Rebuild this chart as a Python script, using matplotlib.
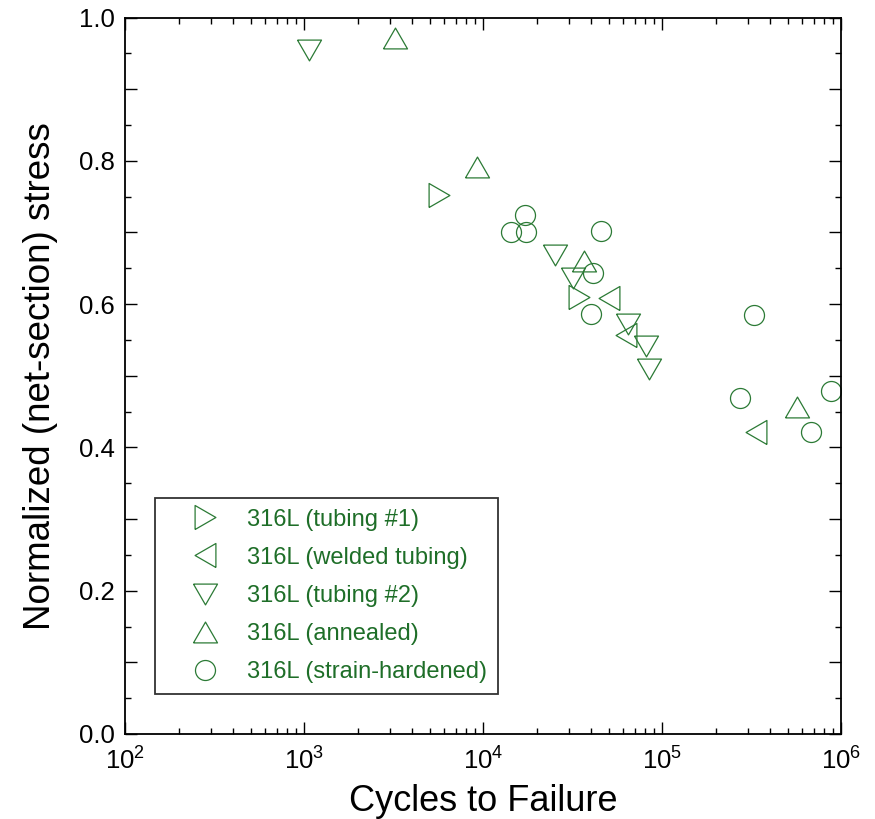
import numpy as np
import matplotlib
matplotlib.use('Agg')
import matplotlib.pyplot as plt
from matplotlib.ticker import LogLocator, MultipleLocator, FuncFormatter, NullFormatter

plt.rcParams['font.family'] = ['Liberation Sans', 'DejaVu Sans']
plt.rcParams['mathtext.fontset'] = 'custom'
plt.rcParams['mathtext.rm'] = 'Liberation Sans'
plt.rcParams['mathtext.it'] = 'Liberation Sans'

GREEN = '#2b7a35'
TEXT_GREEN = '#1e6e28'

# cycles to failure / normalized stress
tub1_n = [5620, 34200]
tub1_s = [0.752, 0.610]

weld_n = [50000, 62500, 334000]
weld_s = [0.608, 0.557, 0.422]

tub2_n = [1055, 25100, 31800, 63900, 80600, 84000]
tub2_s = [0.955, 0.669, 0.636, 0.572, 0.541, 0.509]

ann_n = [3200, 9160, 36400, 566000]
ann_s = [0.972, 0.791, 0.660, 0.456]

sh_n = [17050, 14240, 17280, 45300, 41100, 39900, 324500, 271000, 873500, 673000]
sh_s = [0.725, 0.701, 0.701, 0.702, 0.643, 0.586, 0.585, 0.469, 0.479, 0.421]

LABELS = ['316L (tubing #1)', '316L (welded tubing)', '316L (tubing #2)',
          '316L (annealed)', '316L (strain-hardened)']

# equilateral triangles (matplotlib's built-in ones are as tall as wide)
h = np.sqrt(3) / 2
TRI_UP = [(-1, -h), (1, -h), (0, h), (-1, -h)]
TRI_DN = [(-1, h), (1, h), (0, -h), (-1, h)]
TRI_R = [(-h, -1), (-h, 1), (h, 0), (-h, -1)]
TRI_L = [(h, -1), (h, 1), (-h, 0), (h, -1)]

series = [
    (tub1_n, tub1_s, TRI_R, 17.3),
    (weld_n, weld_s, TRI_L, 17.3),
    (tub2_n, tub2_s, TRI_DN, 17.3),
    (ann_n, ann_s, TRI_UP, 17.3),
    (sh_n, sh_s, 'o', 14.4),
]

fig = plt.figure(figsize=(8.75, 8.19), dpi=100)
ax = fig.add_axes([0.1434, 0.1038, 0.8183, 0.8748])

for (n, s, mk, ms), lab in zip(series, LABELS):
    ax.plot(n, s, linestyle='none', marker=mk, markersize=ms,
            markerfacecolor='none', markeredgecolor=GREEN,
            markeredgewidth=0.9, label=lab)

ax.set_xscale('log')
ax.set_xlim(1e2, 1e6)
ax.set_ylim(0, 1.0)

ax.xaxis.set_major_locator(LogLocator(base=10, numticks=10))
ax.xaxis.set_minor_locator(LogLocator(base=10, subs=np.arange(2, 10), numticks=20))
ax.xaxis.set_minor_formatter(NullFormatter())

ax.yaxis.set_major_locator(MultipleLocator(0.1))
ax.yaxis.set_minor_locator(MultipleLocator(0.05))
ax.yaxis.set_major_formatter(FuncFormatter(
    lambda v, p: f'{v:.1f}' if int(round(v * 10)) % 2 == 0 else ''))

ax.tick_params(which='both', direction='in', top=True, right=True,
               width=1.0, color='black', labelsize=18.5)
ax.tick_params(which='major', length=8.5, pad=7.5)
ax.tick_params(which='minor', length=4.5)
ax.tick_params(axis='x', which='major', pad=9.5)
for sp in ax.spines.values():
    sp.set_linewidth(1.3)

ax.set_xlabel('Cycles to Failure', fontsize=26, labelpad=7)
ax.set_ylabel('Normalized (net-section) stress', fontsize=26.5, labelpad=15)

leg = ax.legend(loc='lower left', bbox_to_anchor=(0.0412, 0.0558),
                fontsize=17, frameon=True, fancybox=False,
                edgecolor='black', borderpad=0.47, labelspacing=0.68,
                handletextpad=0.14, borderaxespad=0, handlelength=3.29)
leg.get_frame().set_linewidth(1.3)
for t in leg.get_texts():
    t.set_color(TEXT_GREEN)

fig.savefig('out.png', dpi=100, facecolor='white')
